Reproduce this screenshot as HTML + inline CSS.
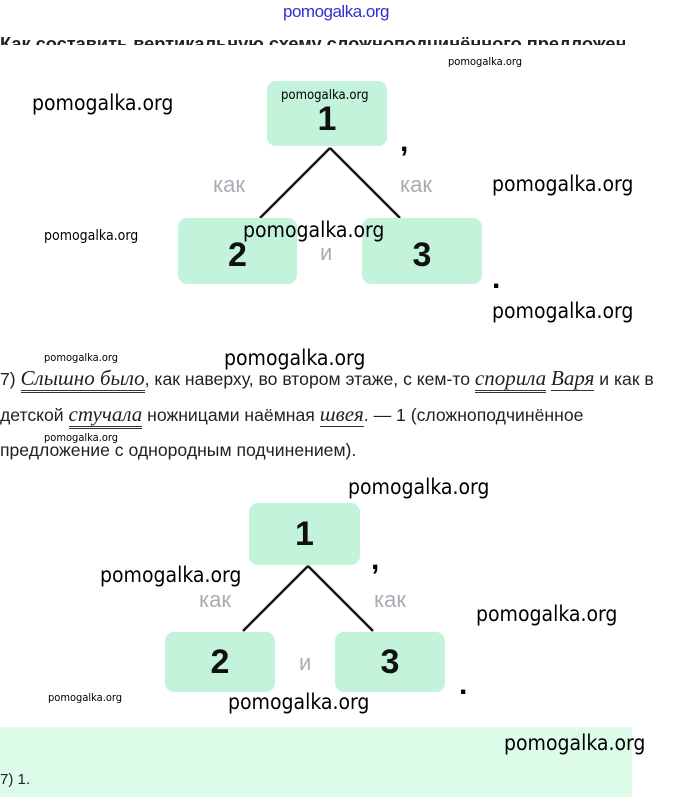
<!DOCTYPE html>
<html><head><meta charset="utf-8"><style>
body{margin:0;width:680px;height:797px;position:relative;background:#fff;overflow:hidden;font-family:"Liberation Sans",sans-serif;}
.a{position:absolute;white-space:nowrap;}
.w{font-family:"DejaVu Sans Condensed","Liberation Sans",sans-serif;color:#000;}
.b{position:absolute;background:#c3f3da;border-radius:9px;display:flex;align-items:center;justify-content:center;font-size:34px;font-weight:bold;color:#111;}
.g{position:absolute;color:#a9adb3;font-size:22px;}
.t{font-size:17.6px;color:#222;}
.i{font-family:"Liberation Serif",serif;font-style:italic;font-size:21px;}
.u2{border-bottom:3px double #333;}
.u1{border-bottom:1px solid #333;}
</style></head><body>
<div class="a" style="left:283px;top:2px;font-size:17px;color:#3030d0;letter-spacing:-0.5px">pomogalka.org</div>
<div class="a" style="left:0;top:30px;height:15px;overflow:hidden;width:625px"><div style="font-size:18.2px;font-weight:bold;color:#222;margin-top:4px">Как составить вертикальную схему сложноподчинённого предложения</div></div>

<svg class="a" style="left:0;top:0" width="680" height="797">
<line x1="330" y1="148" x2="260" y2="218" stroke="#111" stroke-width="2.5"/>
<line x1="330" y1="148" x2="400" y2="218" stroke="#111" stroke-width="2.5"/>
<line x1="308" y1="566" x2="243" y2="631" stroke="#111" stroke-width="2.5"/>
<line x1="308" y1="566" x2="373" y2="631" stroke="#111" stroke-width="2.5"/>
</svg>

<div class="b" style="left:267px;top:81px;width:120px;height:65px;padding-top:12px;box-sizing:border-box">1</div>
<div class="b" style="left:178px;top:218px;width:119px;height:66px;padding-top:8px;box-sizing:border-box">2</div>
<div class="b" style="left:362px;top:218px;width:120px;height:66px;padding-top:8px;box-sizing:border-box">3</div>
<div class="g" style="left:213px;top:172px">как</div>
<div class="g" style="left:400px;top:172px">как</div>
<div class="g" style="left:320px;top:240px">и</div>
<div class="a" style="left:400px;top:125px;font-size:30px;font-weight:bold">,</div>
<div class="a" style="left:492px;top:262px;font-size:30px;font-weight:bold">.</div>

<div class="b" style="left:249px;top:503px;width:111px;height:62px">1</div>
<div class="b" style="left:165px;top:632px;width:110px;height:60px">2</div>
<div class="b" style="left:335px;top:632px;width:110px;height:60px">3</div>
<div class="g" style="left:199px;top:587px">как</div>
<div class="g" style="left:374px;top:587px">как</div>
<div class="g" style="left:299px;top:650px">и</div>
<div class="a" style="left:371px;top:543px;font-size:30px;font-weight:bold">,</div>
<div class="a" style="left:459px;top:668px;font-size:30px;font-weight:bold">.</div>

<div class="a t" style="left:0;top:366px"><span>7) </span><span class="i u2">Слышно было</span>, как наверху, во втором этаже, с кем-то <span class="i u2">спорила</span> <span class="i u1">Варя</span> и как в</div>
<div class="a t" style="left:0;top:402px">детской <span class="i u2">стучала</span> ножницами наёмная <span class="i u1">швея</span>. — 1 (сложноподчинённое</div>
<div class="a t" style="left:0;top:440px">предложение с однородным подчинением).</div>

<div class="a" style="left:0;top:727px;width:632px;height:70px;background:#dcfce9"></div>
<div class="a t" style="left:0;top:771px;font-size:15px">7) 1.</div>

<div class="a w" style="left:448px;top:55px;font-size:11px">pomogalka.org</div>
<div class="a w" style="left:32px;top:91px;font-size:21px">pomogalka.org</div>
<div class="a w" style="left:281px;top:88px;font-size:13px">pomogalka.org</div>
<div class="a w" style="left:492px;top:172px;font-size:21px">pomogalka.org</div>
<div class="a w" style="left:44px;top:228px;font-size:14px">pomogalka.org</div>
<div class="a w" style="left:243px;top:218px;font-size:21px">pomogalka.org</div>
<div class="a w" style="left:492px;top:299px;font-size:21px">pomogalka.org</div>
<div class="a w" style="left:44px;top:351px;font-size:11px">pomogalka.org</div>
<div class="a w" style="left:224px;top:346px;font-size:21px">pomogalka.org</div>
<div class="a w" style="left:44px;top:431px;font-size:11px">pomogalka.org</div>
<div class="a w" style="left:348px;top:475px;font-size:21px">pomogalka.org</div>
<div class="a w" style="left:100px;top:563px;font-size:21px">pomogalka.org</div>
<div class="a w" style="left:476px;top:602px;font-size:21px">pomogalka.org</div>
<div class="a w" style="left:48px;top:691px;font-size:11px">pomogalka.org</div>
<div class="a w" style="left:228px;top:690px;font-size:21px">pomogalka.org</div>
<div class="a w" style="left:504px;top:731px;font-size:21px">pomogalka.org</div>
</body></html>
